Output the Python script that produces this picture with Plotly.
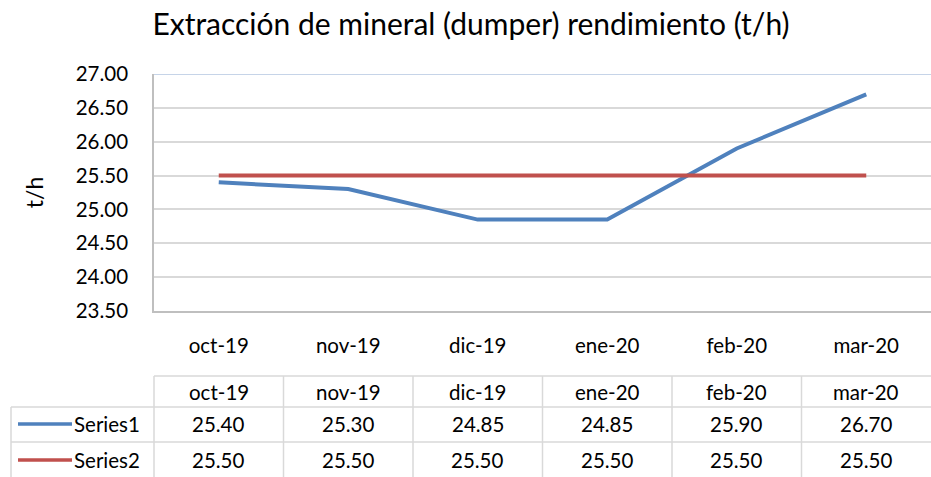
import plotly.graph_objects as go

categories = ["oct-19", "nov-19", "dic-19", "ene-20", "feb-20", "mar-20"]
series1 = [25.40, 25.30, 24.85, 24.85, 25.90, 26.70]
series2 = [25.50, 25.50, 25.50, 25.50, 25.50, 25.50]
series_names = ["Series1", "Series2"]
series_colors = ["#4F81BD", "#C0504D"]
y_ticks = [23.5, 24.0, 24.5, 25.0, 25.5, 26.0, 26.5, 27.0]
title_text = "Extracción de mineral (dumper) rendimiento (t/h)"
y_title = "t/h"

FONT = "Lato"
W, H = 931, 477
L, R, T, B = 154, 0, 74, 166
FS = 20.5

fig = go.Figure()
for name, vals, col in zip(series_names, [series1, series2], series_colors):
    fig.add_trace(go.Scatter(x=categories, y=vals, mode="lines", name=name,
                             line=dict(color=col, width=4), showlegend=False))

fig.update_layout(
    width=W, height=H,
    margin=dict(l=L, r=R, t=T, b=B),
    paper_bgcolor="white", plot_bgcolor="white",
    font=dict(family=FONT, color="black", size=FS),
    title=dict(text=title_text, x=(471 - L) / (W - L - R), xanchor="center", xref="paper",
               y=1 - 24 / H, yanchor="middle", yref="container",
               font=dict(family=FONT, size=30, color="black")),
    xaxis=dict(type="category", showgrid=False, showline=True, linecolor="#BFBFBF",
               linewidth=1.5, ticks="outside", ticklen=16, tickcolor="rgba(0,0,0,0)",
               tickfont=dict(size=FS), range=[-0.5, 5.5]),
    yaxis=dict(range=[23.5, 27.0], tickvals=y_ticks,
               ticktext=[f"{v:.2f}" for v in y_ticks],
               showgrid=True, gridcolor="#D9D9D9", gridwidth=1.5,
               showline=True, linecolor="#BFBFBF", linewidth=1.5,
               ticks="outside", ticklen=20, tickcolor="rgba(0,0,0,0)",
               tickfont=dict(size=FS), zeroline=False,
               title=dict(text=y_title, font=dict(size=23), standoff=26)),
)

# top plot border (light blue as in reference)
fig.add_shape(type="line", xref="paper", yref="y", x0=0, x1=1, y0=27.0, y1=27.0,
              line=dict(color="#C6D4E8", width=2))

# ---- data table below the chart ----
def py(px):  # pixel y -> paper y
    return (H - B - px) / (H - T - B)

def px_x(px):
    return (px - L) / (W - L - R)

header_top, r1_top, r2_top, bottom = 376, 407, 442, 478
table_left = 11
col_w = (W - L - R) / len(categories)
grid = "#D9D9D9"
for yy in [header_top]:
    fig.add_shape(type="line", xref="paper", yref="paper", x0=0, x1=1, y0=py(yy), y1=py(yy),
                  line=dict(color=grid, width=1.5))
for yy in [r1_top, r2_top, bottom]:
    fig.add_shape(type="line", xref="paper", yref="paper", x0=px_x(table_left), x1=1, y0=py(yy), y1=py(yy),
                  line=dict(color=grid, width=1.5))
fig.add_shape(type="line", xref="paper", yref="paper", x0=px_x(table_left), x1=px_x(table_left),
              y0=py(r1_top), y1=py(bottom), line=dict(color=grid, width=1.5))
for i in range(len(categories)):
    xx = L + i * col_w
    fig.add_shape(type="line", xref="paper", yref="paper", x0=px_x(xx), x1=px_x(xx),
                  y0=py(header_top), y1=py(bottom), line=dict(color=grid, width=1.5))

for c in categories:
    fig.add_annotation(x=c, xref="x", y=py(392), yref="paper",
                       text=c, showarrow=False, font=dict(size=FS), yanchor="middle")
row_centers = [424, 460]
for yc_px, name, vals, col in zip(row_centers, series_names, [series1, series2], series_colors):
    yc = py(yc_px)
    for c, v in zip(categories, vals):
        fig.add_annotation(x=c, xref="x", y=yc, yref="paper", text=f"{v:.2f}",
                           showarrow=False, font=dict(size=FS), yanchor="middle")
    fig.add_shape(type="line", xref="paper", yref="paper", x0=px_x(18), x1=px_x(72), y0=yc, y1=yc,
                  line=dict(color=col, width=3.5))
    fig.add_annotation(x=px_x(72), xref="paper", y=yc, yref="paper", text=name, xanchor="left",
                       showarrow=False, font=dict(size=FS), yanchor="middle")

fig.write_html("out.html", config={"displayModeBar": False},
               post_script="document.body.style.margin='0';")
